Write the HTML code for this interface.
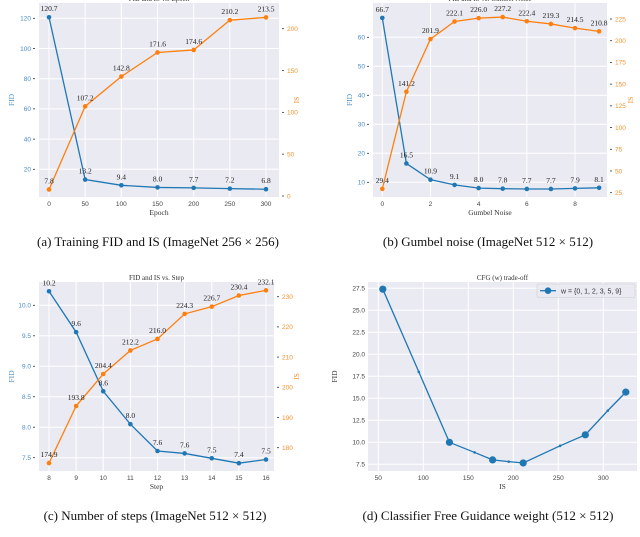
<!DOCTYPE html>
<html><head><meta charset="utf-8"><style>
body{margin:0;background:#fff;width:640px;height:537px;overflow:hidden}
svg{display:block}
.cap{font-family:"Liberation Serif",serif;font-size:13px;fill:#111}
.tk{font-family:"Liberation Sans",sans-serif;font-size:6.5px}
.ser{font-family:"Liberation Serif",serif;font-size:7px;fill:#333}
</style></head><body>
<svg id="s" width="640" height="537" viewBox="0 0 640 537" xmlns="http://www.w3.org/2000/svg">
<text class="cap" x="158" y="246" text-anchor="middle">(a) Training FID and IS (ImageNet 256 × 256)</text>
<text class="cap" x="488" y="246" text-anchor="middle">(b) Gumbel noise (ImageNet 512 × 512)</text>
<text class="cap" x="155" y="520" text-anchor="middle">(c) Number of steps (ImageNet 512 × 512)</text>
<text class="cap" x="488" y="520" text-anchor="middle">(d) Classifier Free Guidance weight (512 × 512)</text>
</svg>
<script>
// Panel a
const aX=[0,50,100,150,200,250,300];
const aFID=[120.7,13.2,9.4,8.0,7.7,7.2,6.8];
const aIS=[7.8,107.2,142.8,171.6,174.6,210.2,213.5];
const aXT=[0,50,100,150,200,250,300];
const aYT=[20,40,60,80,100,120];
const aRT=[0,50,100,150,200];
// Panel b
const bX=[0,1,2,3,4,5,6,7,8,9];
const bFID=[66.7,16.5,10.9,9.1,8.0,7.8,7.7,7.7,7.9,8.1];
const bIS=[29.4,141.2,201.9,222.1,226.0,227.2,222.4,219.3,214.5,210.8];
const bXT=[0,2,4,6,8];
const bYT=[10,20,30,40,50,60];
const bRT=[25,50,75,100,125,150,175,200,225];
// Panel c
const cX=[8,9,10,11,12,13,14,15,16];
const cFID=[10.23,9.56,8.59,8.05,7.61,7.57,7.49,7.41,7.47];
const cFIDlbl=["10.2","9.6","8.6","8.0","7.6","7.6","7.5","7.4","7.5"];
const cIS=[174.9,193.8,204.4,212.2,216.0,224.3,226.7,230.4,232.1];
const cXT=[8,9,10,11,12,13,14,15,16];
const cYT=[7.5,8.0,8.5,9.0,9.5,10.0];
const cRT=[180,190,200,210,220,230];
// Panel d
const dIS=[55,95,129,157,177,195,211,252,280,305,325];
const dFID=[27.4,18.0,10.0,8.85,8.0,7.8,7.65,9.6,10.85,13.6,15.7];
const dBig=[1,0,1,0,1,0,1,0,1,0,1];
const dXT=[50,100,150,200,250,300];
const dYT=[7.5,10.0,12.5,15.0,17.5,20.0,22.5,25.0,27.5];

const NS="http://www.w3.org/2000/svg";
const S=document.getElementById('s');
function mk(tag,at,parent){const e=document.createElementNS(NS,tag);for(const k in at)e.setAttribute(k,at[k]);(parent||S).appendChild(e);return e;}
function lin(d0,d1,p0,p1){return v=>p0+(v-d0)*(p1-p0)/(d1-d0);}
const BLUE="#1f77b4",ORANGE="#ff7f0e",BT="#4a8cc4",OT="#f5922f";

function panel(o){
  const g=mk('g',{});
  
  
  const bg=mk('rect',{x:o.L,y:o.T,width:o.R-o.L,height:o.B-o.T,fill:'#eaeaf2'},g);
  
  
  o.xt.forEach(t=>{const x=o.sx(t);
    const l=mk('line',{x1:x,x2:x,y1:o.T,y2:o.B,stroke:'#fff','stroke-width':1},g);
    
    
    const tx=mk('text',{x:x,y:o.B+9,'text-anchor':'middle',class:'tk',fill:'#444'},g);tx.textContent=t;
    
    
  });
  o.yt.forEach(t=>{const y=o.sy(t);
    const l=mk('line',{x1:o.L,x2:o.R,y1:y,y2:y,stroke:'#fff','stroke-width':1},g);
    
    
    const tx=mk('text',{x:o.L-(o.dual?8:3),y:y+2.3,'text-anchor':'end',class:'tk',fill:o.dual?BT:'#444'},g);tx.textContent=o.fmt?o.fmt(t):t;
    
    
    if(o.dual){mk('line',{x1:o.L-6,x2:o.L-4,y1:y,y2:y,stroke:'#333','stroke-width':0.8},g);}
  });
  if(o.rt){o.rt.forEach(t=>{const y=o.sr(t);
    mk('line',{x1:o.R+3,x2:o.R+5,y1:y,y2:y,stroke:'#333','stroke-width':0.8},g);
    const tx=mk('text',{x:o.R+8,y:y+2.3,class:'tk',fill:OT},g);tx.textContent=t;
    
    
  });}
  const ti=mk('text',{x:(o.L+o.R)/2,y:o.T-2,'text-anchor':'middle',class:'ser'},g);ti.textContent=o.title;
  
  
  const xl=mk('text',{x:(o.L+o.R)/2,y:o.B+18,'text-anchor':'middle',class:'ser',style:'font-size:7.5px'},g);xl.textContent=o.xlabel;
  
  
  const yl=mk('text',{x:0,y:0,'text-anchor':'middle',class:'ser',style:'font-size:7.5px;fill:'+(o.dual?BT:'#333'),transform:`translate(${o.ylx},${(o.T+o.B)/2}) rotate(-90)`},g);yl.textContent='FID';
  
  
  if(o.dual){const rl=mk('text',{x:0,y:0,'text-anchor':'middle',class:'ser',style:'font-size:7.5px;fill:'+OT,transform:`translate(${o.rlx},${(o.T+o.B)/2}) rotate(-90)`},g);rl.textContent='IS';
    
    }
  return g;
}
function series(g,xs,ys,sx,sy,col,name,lbls){
  const p=mk('polyline',{points:xs.map((x,i)=>sx(x)+','+sy(ys[i])).join(' '),fill:'none',stroke:col,'stroke-width':1.3},g);
  
  
  xs.forEach((x,i)=>{
    const c=mk('circle',{cx:sx(x),cy:sy(ys[i]),r:2.3,fill:col},g);
    
    
    const t=mk('text',{x:sx(x),y:sy(ys[i])-6,'text-anchor':'middle',class:'ser',style:'font-size:7.5px;fill:#222'},g);
    t.textContent=lbls?lbls[i]:ys[i].toFixed(1);
    
    
  });
}
// a
(function(){const o={name:'panel-a',L:39,R:279,T:3,B:197,dual:true,xt:aXT,yt:aYT,rt:aRT,title:'FID and IS vs. Epoch',xlabel:'Epoch',ylx:14,rlx:299,
 sx:lin(0,300,49,266),sy:lin(20,120,169.3,18.3),sr:lin(0,200,196,28.7)};
 const g=panel(o);series(g,aX,aFID,o.sx,o.sy,BLUE,'fid');series(g,aX,aIS,o.sx,o.sr,ORANGE,'is');})();
// b
(function(){const o={name:'panel-b',L:373,R:607,T:3,B:197,dual:true,xt:bXT,yt:bYT,rt:bRT,title:'FID and IS vs. Gumbel Noise',xlabel:'Gumbel Noise',ylx:352,rlx:633,
 sx:lin(0,8,382.3,575),sy:lin(10,60,182.3,37.3),sr:lin(25,225,192.7,19)};
 const g=panel(o);series(g,bX,bFID,o.sx,o.sy,BLUE,'fid');series(g,bX,bIS,o.sx,o.sr,ORANGE,'is');})();
// c
(function(){const o={name:'panel-c',L:39,R:274,T:282,B:471,dual:true,xt:cXT,yt:cYT,rt:cRT,title:'FID and IS vs. Step',xlabel:'Step',ylx:14,rlx:299,fmt:v=>v.toFixed(1),
 sx:lin(8,16,49,266),sy:lin(7.5,10,457.7,305.3),sr:lin(180,230,447.7,296.7)};
 const g=panel(o);series(g,cX,cFID,o.sx,o.sy,BLUE,'fid',cFIDlbl);series(g,cX,cIS,o.sx,o.sr,ORANGE,'is');})();
// d
(function(){const o={name:'panel-d',L:368,R:637,T:282,B:471,dual:false,xt:dXT,yt:dYT,title:'CFG (w) trade-off',xlabel:'IS',ylx:337,fmt:v=>v.toFixed(1),
 sx:lin(50,300,378.3,603.3),sy:lin(7.5,27.5,464.3,288.3)};
 const g=panel(o);
 const p=mk('polyline',{points:dIS.map((x,i)=>o.sx(x)+','+o.sy(dFID[i])).join(' '),fill:'none',stroke:BLUE,'stroke-width':1.3},g);
 
 
 dIS.forEach((x,i)=>{const c=mk('circle',{cx:o.sx(x),cy:o.sy(dFID[i]),r:dBig[i]?3.6:1.3,fill:BLUE},g);
  
  });
 const lg=mk('g',{},g);
 
 
 mk('rect',{x:537,y:284,width:98,height:13.5,rx:2,fill:'#eaeaf2',stroke:'#ccc','stroke-width':0.6},lg);
 mk('line',{x1:540,x2:556,y1:290.7,y2:290.7,stroke:BLUE,'stroke-width':1.3},lg);
 mk('circle',{cx:548,cy:290.7,r:3.3,fill:BLUE},lg);
 const lt=mk('text',{x:561,y:293.3,class:'tk',fill:'#333',style:'font-size:7px'},lg);lt.textContent='w = {0, 1, 2, 3, 5, 9}';
 
 
})();
</script>
</body></html>
